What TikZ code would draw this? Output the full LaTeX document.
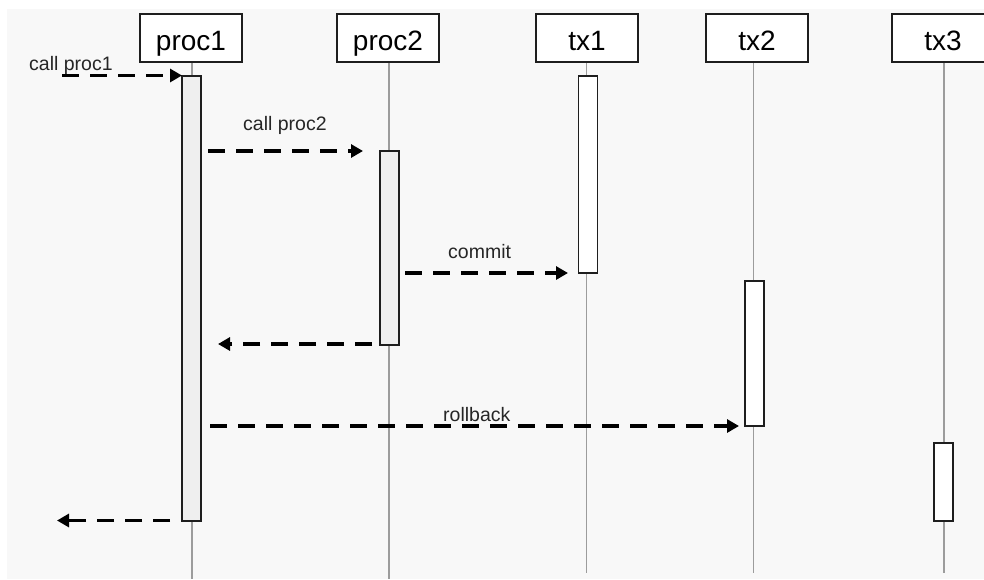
\documentclass[tikz,border=0pt]{standalone}
\usepackage{fontspec}
\setmainfont{Liberation Sans}
\usetikzlibrary{arrows.meta}
\definecolor{bgcol}{HTML}{F8F8F8}
\definecolor{barfill}{HTML}{EFEFEF}
\definecolor{lifecol}{HTML}{9C9C9C}
\definecolor{edgecol}{HTML}{1E1E1E}
\begin{document}
\begin{tikzpicture}[x=1pt,y=-1pt,
  header/.style={draw=edgecol,line width=1.9pt,fill=white,minimum width=102pt,
    minimum height=48pt,inner sep=0pt,text height=26pt,text depth=2pt,
    font=\fontsize{28}{32}\selectfont},
  actbar/.style={draw=edgecol,line width=1.9pt,minimum width=19pt,inner sep=0pt},
  procbar/.style={actbar,fill=barfill},
  txbar/.style={actbar,fill=white},
  lifeline/.style={draw=lifecol,line width=1.1pt},
  msg/.style={draw=black,line width=3.6pt,dash pattern=on 17pt off 11pt,
    -{Triangle[length=12pt,width=13pt]}},
  msglabel/.style={anchor=base west,inner sep=0pt,text=black!85,
    font=\fontsize{19.5}{22}\selectfont}]
\useasboundingbox (0,0) rectangle (984,579);
\clip (0,0) rectangle (984,579);
\fill[white] (0,0) rectangle (984,579);
\fill[bgcol] (7,9) rectangle (984,579);

% lifelines
\coordinate (l1t) at (192,62);   \coordinate (l1b) at (192,579);
\coordinate (l2t) at (389,62);   \coordinate (l2b) at (389,579);
\coordinate (l3t) at (586.5,62); \coordinate (l3b) at (586.5,573);
\coordinate (l4t) at (753.5,62); \coordinate (l4b) at (753.5,573);
\coordinate (l5t) at (944,62);   \coordinate (l5b) at (944,573);
\draw[lifeline] (l1t) -- (l1b);
\draw[lifeline] (l2t) -- (l2b);
\draw[lifeline] (l3t) -- (l3b);
\draw[lifeline] (l4t) -- (l4b);
\draw[lifeline] (l5t) -- (l5b);

% headers
\node[header] (h1) at (191,38) {proc1};
\node[header] (h2) at (388,38) {proc2};
\node[header] (h3) at (587,38) {tx1};
\node[header] (h4) at (757,38) {tx2};
\node[header] (h5) at (943,38) {tx3};

% activation bars
\node[procbar,minimum height=445pt] (b1) at (191.7,298.5) {};
\node[procbar,minimum height=194pt] (b2) at (389.3,248) {};
\node[txbar,minimum height=197pt] (b3) at (588,174.5) {};
\node[txbar,minimum height=145pt] (b4) at (754.5,353.5) {};
\node[txbar,minimum height=78pt] (b5) at (943.8,482) {};

% message end points
\coordinate (m1s) at (62,75.5);   \coordinate (m1e) at (182,75.5);
\coordinate (m2s) at (208,151);   \coordinate (m2e) at (363,151);
\coordinate (m3s) at (405,273);   \coordinate (m3e) at (568,273);
\coordinate (m4s) at (372,344);   \coordinate (m4e) at (218,344);
\coordinate (m5s) at (210,426);   \coordinate (m5e) at (739,426);
\coordinate (m6s) at (170,520.5); \coordinate (m6e) at (57,520.5);

\draw[msg] (m1s) -- (m1e);
\draw[msg] (m2s) -- (m2e);
\draw[msg] (m3s) -- (m3e);
\draw[msg] (m4s) -- (m4e);
\draw[msg] (m5s) -- (m5e);
\draw[msg] (m6s) -- (m6e);

% labels
\node[msglabel] (t1) at (29,70) {call proc1};
\node[msglabel] (t2) at (243,130) {call proc2};
\node[msglabel] (t3) at (448,258) {commit};
\node[msglabel] (t5) at (443,421) {rollback};
\end{tikzpicture}
\end{document}
